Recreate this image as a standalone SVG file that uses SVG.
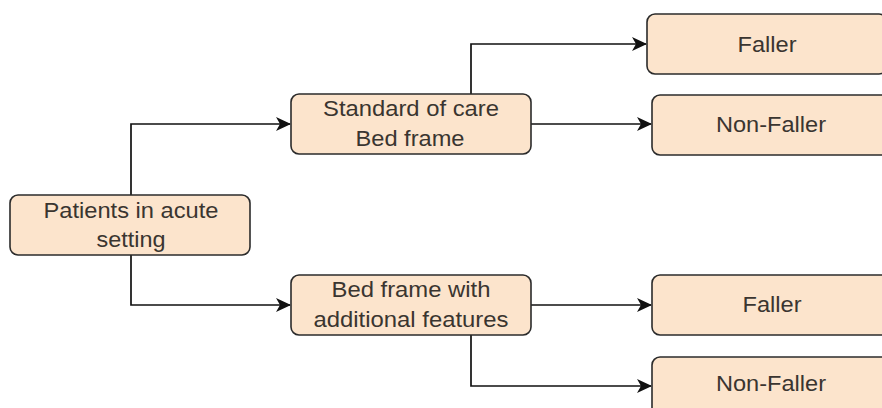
<svg xmlns="http://www.w3.org/2000/svg" width="882" height="408" viewBox="0 0 882 408">
  <style>
    .box { fill: #fce4cc; stroke: #2b2b2b; stroke-width: 1.6; }
    .lbl { font-family: "Liberation Sans", Arial, sans-serif; font-size: 22px; fill: #3a3530; text-anchor: middle; }
    .edge { fill: none; stroke: #111; stroke-width: 1.7; marker-end: url(#arrow); }
  </style>
  <defs>
    <marker id="arrow" viewBox="0 0 15 14" refX="14" refY="7" markerWidth="15" markerHeight="14" markerUnits="userSpaceOnUse" orient="auto">
      <path d="M0,0 L15,7 L0,14 L4,7 Z" fill="#111"/>
    </marker>
  </defs>
  <rect width="882" height="408" fill="#ffffff"/>

  <g id="connectors">
    <path class="edge" d="M131,195 V124 H290"/>
    <path class="edge" d="M131,255 V305 H290"/>
    <path class="edge" d="M471,94 V44 H646"/>
    <path class="edge" d="M531,124 H651"/>
    <path class="edge" d="M531,305 H651"/>
    <path class="edge" d="M471,335 V386 H651"/>
  </g>

  <g id="patients">
    <rect class="box" x="10" y="195" width="240" height="60" rx="8"/>
    <text class="lbl" x="131" y="218" textLength="175" lengthAdjust="spacingAndGlyphs">Patients in acute</text>
    <text class="lbl" x="131" y="247" textLength="69" lengthAdjust="spacingAndGlyphs">setting</text>
  </g>

  <g id="standard-care">
    <rect class="box" x="291" y="94" width="240" height="60" rx="8"/>
    <text class="lbl" x="411" y="116" textLength="176" lengthAdjust="spacingAndGlyphs">Standard of care</text>
    <text class="lbl" x="410" y="146" textLength="109" lengthAdjust="spacingAndGlyphs">Bed frame</text>
  </g>

  <g id="additional-features">
    <rect class="box" x="291" y="275" width="240" height="60" rx="8"/>
    <text class="lbl" x="411" y="297" textLength="159" lengthAdjust="spacingAndGlyphs">Bed frame with</text>
    <text class="lbl" x="411" y="327" textLength="195" lengthAdjust="spacingAndGlyphs">additional features</text>
  </g>

  <g id="faller-1">
    <rect class="box" x="647" y="14" width="240" height="60" rx="8"/>
    <text class="lbl" x="767" y="52" textLength="59" lengthAdjust="spacingAndGlyphs">Faller</text>
  </g>

  <g id="non-faller-1">
    <rect class="box" x="652" y="95" width="240" height="60" rx="8"/>
    <text class="lbl" x="771" y="132" textLength="110" lengthAdjust="spacingAndGlyphs">Non-Faller</text>
  </g>

  <g id="faller-2">
    <rect class="box" x="652" y="275" width="240" height="60" rx="8"/>
    <text class="lbl" x="772" y="312" textLength="59" lengthAdjust="spacingAndGlyphs">Faller</text>
  </g>

  <g id="non-faller-2">
    <rect class="box" x="652" y="357" width="240" height="60" rx="8"/>
    <text class="lbl" x="771" y="391" textLength="110" lengthAdjust="spacingAndGlyphs">Non-Faller</text>
  </g>
</svg>
